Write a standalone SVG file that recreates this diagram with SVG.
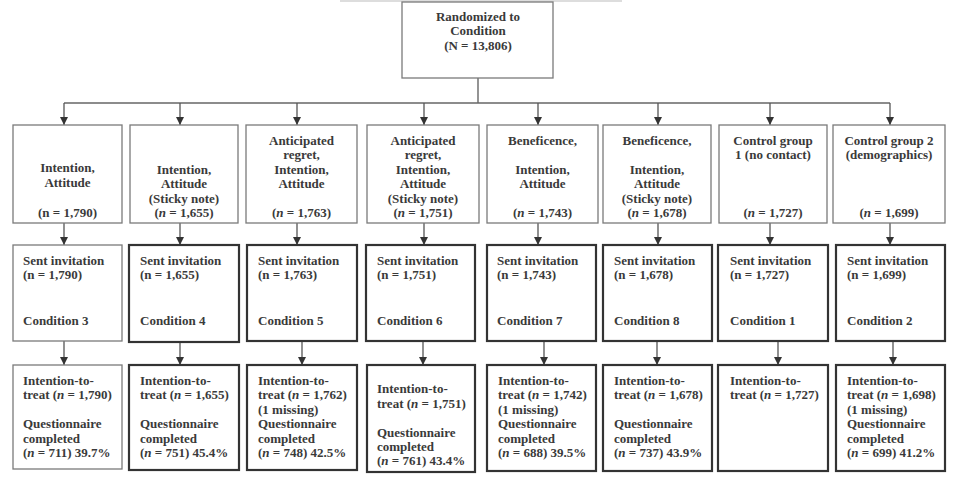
<svg xmlns="http://www.w3.org/2000/svg" width="960" height="483" viewBox="0 0 960 483">
<defs>
<marker id="ah" viewBox="0 0 8 8" refX="8" refY="4" markerWidth="8" markerHeight="8" markerUnits="userSpaceOnUse" orient="auto">
<path d="M0,0 L8,4 L0,8 z" fill="#333"/>
</marker>
</defs>
<style>
text{font-family:"Liberation Serif","Times New Roman",serif;font-weight:bold;font-size:13px;fill:#3a3a3a}
.c{text-anchor:middle}
.thin{fill:#fff;stroke:#7a7a7a;stroke-width:1.3}
.thick{fill:#fff;stroke:#333;stroke-width:2.2}
.ln{stroke:#666;stroke-width:1.4;fill:none}
.ar{stroke:#555;stroke-width:1.3;fill:none;marker-end:url(#ah)}
</style>
<rect width="960" height="483" fill="#fff"/>
<line x1="340" y1="1" x2="622" y2="1" stroke="#bbb" stroke-width="1"/>

<g id="connectors">
<line class="ln" x1="478" y1="78" x2="478" y2="103"/>
<line class="ln" x1="64" y1="103" x2="890" y2="103"/>
<line class="ar" x1="64" y1="103" x2="64" y2="125"/>
<line class="ar" x1="180" y1="103" x2="180" y2="125"/>
<line class="ar" x1="297" y1="103" x2="297" y2="125"/>
<line class="ar" x1="424" y1="103" x2="424" y2="125"/>
<line class="ar" x1="538" y1="103" x2="538" y2="125"/>
<line class="ar" x1="658" y1="103" x2="658" y2="125"/>
<line class="ar" x1="770" y1="103" x2="770" y2="125"/>
<line class="ar" x1="890" y1="103" x2="890" y2="125"/>
<line class="ar" x1="64" y1="223" x2="64" y2="245"/>
<line class="ar" x1="180" y1="223" x2="180" y2="245"/>
<line class="ar" x1="297" y1="223" x2="297" y2="245"/>
<line class="ar" x1="424" y1="223" x2="424" y2="245"/>
<line class="ar" x1="538" y1="223" x2="538" y2="245"/>
<line class="ar" x1="658" y1="223" x2="658" y2="245"/>
<line class="ar" x1="770" y1="223" x2="770" y2="245"/>
<line class="ar" x1="890" y1="223" x2="890" y2="245"/>
<line class="ar" x1="64" y1="341" x2="64" y2="365"/>
<line class="ar" x1="180" y1="341" x2="180" y2="365"/>
<line class="ar" x1="302" y1="341" x2="302" y2="365"/>
<line class="ar" x1="423" y1="341" x2="423" y2="365"/>
<line class="ar" x1="544" y1="341" x2="544" y2="365"/>
<line class="ar" x1="657" y1="341" x2="657" y2="365"/>
<line class="ar" x1="778" y1="341" x2="778" y2="365"/>
<line class="ar" x1="893" y1="341" x2="893" y2="365"/>
</g>

<g id="top">
<rect class="thin" x="402" y="2" width="151" height="76"/>
<text class="c" x="478" y="20.5">Randomized to</text>
<text class="c" x="478" y="35">Condition</text>
<text class="c" x="478" y="49.5">(N = 13,806)</text>
</g>

<g id="g1">
<rect class="thin" x="13" y="125" width="109" height="98"/>
<text class="c" x="67.5" y="172">Intention,</text>
<text class="c" x="67.5" y="186.5">Attitude</text>
<text class="c" x="67.5" y="217">(n = 1,790)</text>
</g>
<g id="g2">
<rect class="thin" x="130" y="125" width="108" height="98"/>
<text class="c" x="184" y="173.5">Intention,</text>
<text class="c" x="184" y="188">Attitude</text>
<text class="c" x="184" y="202.5">(Sticky note)</text>
<text class="c" x="184" y="217">(<tspan font-style="italic">n</tspan> = 1,655)</text>
</g>
<g id="g3">
<rect class="thin" x="246" y="125" width="111" height="98"/>
<text class="c" x="301.5" y="144.5">Anticipated</text>
<text class="c" x="301.5" y="159">regret,</text>
<text class="c" x="301.5" y="173.5">Intention,</text>
<text class="c" x="301.5" y="188">Attitude</text>
<text class="c" x="301.5" y="217">(<tspan font-style="italic">n</tspan> = 1,763)</text>
</g>
<g id="g4">
<rect class="thin" x="367" y="125" width="112" height="98"/>
<text class="c" x="423" y="144.5">Anticipated</text>
<text class="c" x="423" y="159">regret,</text>
<text class="c" x="423" y="173.5">Intention,</text>
<text class="c" x="423" y="188">Attitude</text>
<text class="c" x="423" y="202.5">(Sticky note)</text>
<text class="c" x="423" y="217">(<tspan font-style="italic">n</tspan> = 1,751)</text>
</g>
<g id="g5">
<rect class="thin" x="487" y="125" width="111" height="98"/>
<text class="c" x="542.5" y="144.5">Beneficence,</text>
<text class="c" x="542.5" y="173.5">Intention,</text>
<text class="c" x="542.5" y="188">Attitude</text>
<text class="c" x="542.5" y="217">(<tspan font-style="italic">n</tspan> = 1,743)</text>
</g>
<g id="g6">
<rect class="thin" x="603" y="125" width="108" height="98"/>
<text class="c" x="657" y="144.5">Beneficence,</text>
<text class="c" x="657" y="173.5">Intention,</text>
<text class="c" x="657" y="188">Attitude</text>
<text class="c" x="657" y="202.5">(Sticky note)</text>
<text class="c" x="657" y="217">(<tspan font-style="italic">n</tspan> = 1,678)</text>
</g>
<g id="g7">
<rect class="thin" x="719" y="125" width="108" height="98"/>
<text class="c" x="773" y="144.5">Control group</text>
<text class="c" x="773" y="159">1 (no contact)</text>
<text class="c" x="773" y="217">(<tspan font-style="italic">n</tspan> = 1,727)</text>
</g>
<g id="g8">
<rect class="thin" x="833" y="125" width="112" height="98"/>
<text class="c" x="889" y="144.5">Control group 2</text>
<text class="c" x="889" y="159">(demographics)</text>
<text class="c" x="889" y="217">(<tspan font-style="italic">n</tspan> = 1,699)</text>
</g>

<g id="s1">
<rect class="thin" x="13" y="245" width="109" height="96"/>
<text x="23" y="264.5">Sent invitation</text>
<text x="23" y="279">(n = 1,790)</text>
<text x="23" y="324.5">Condition 3</text>
</g>
<g id="s2">
<rect class="thick" x="129" y="245" width="110" height="97"/>
<text x="140" y="264.5">Sent invitation</text>
<text x="140" y="279">(n = 1,655)</text>
<text x="140" y="324.5">Condition 4</text>
</g>
<g id="s3">
<rect class="thick" x="247" y="245" width="110" height="96"/>
<text x="258" y="264.5">Sent invitation</text>
<text x="258" y="279">(n = 1,763)</text>
<text x="258" y="324.5">Condition 5</text>
</g>
<g id="s4">
<rect class="thick" x="366" y="245" width="109" height="96"/>
<text x="377" y="264.5">Sent invitation</text>
<text x="377" y="279">(n = 1,751)</text>
<text x="377" y="324.5">Condition 6</text>
</g>
<g id="s5">
<rect class="thick" x="487" y="245" width="109" height="96"/>
<text x="497" y="264.5">Sent invitation</text>
<text x="497" y="279">(n = 1,743)</text>
<text x="497" y="324.5">Condition 7</text>
</g>
<g id="s6">
<rect class="thick" x="603" y="245" width="109" height="96"/>
<text x="614" y="264.5">Sent invitation</text>
<text x="614" y="279">(n = 1,678)</text>
<text x="614" y="324.5">Condition 8</text>
</g>
<g id="s7">
<rect class="thick" x="718" y="245" width="110" height="96"/>
<text x="730" y="264.5">Sent invitation</text>
<text x="730" y="279">(n = 1,727)</text>
<text x="730" y="324.5">Condition 1</text>
</g>
<g id="s8">
<rect class="thick" x="836" y="245" width="109" height="96"/>
<text x="847" y="264.5">Sent invitation</text>
<text x="847" y="279">(n = 1,699)</text>
<text x="847" y="324.5">Condition 2</text>
</g>

<g id="r1">
<rect class="thin" x="13" y="365" width="109" height="104"/>
<text x="23" y="384.5">Intention-to-</text>
<text x="23" y="399">treat (<tspan font-style="italic">n</tspan> = 1,790)</text>
<text x="23" y="428">Questionnaire</text>
<text x="23" y="442.5">completed</text>
<text x="23" y="457">(<tspan font-style="italic">n</tspan> = 711) 39.7%</text>
</g>
<g id="r2">
<rect class="thick" x="129" y="365" width="110" height="105"/>
<text x="140" y="384.5">Intention-to-</text>
<text x="140" y="399">treat (<tspan font-style="italic">n</tspan> = 1,655)</text>
<text x="140" y="428">Questionnaire</text>
<text x="140" y="442.5">completed</text>
<text x="140" y="457">(<tspan font-style="italic">n</tspan> = 751) 45.4%</text>
</g>
<g id="r3">
<rect class="thick" x="247" y="365" width="110" height="105"/>
<text x="258" y="384.5">Intention-to-</text>
<text x="258" y="399">treat (<tspan font-style="italic">n</tspan> = 1,762)</text>
<text x="258" y="413.5">(1 missing)</text>
<text x="258" y="428">Questionnaire</text>
<text x="258" y="442.5">completed</text>
<text x="258" y="457">(<tspan font-style="italic">n</tspan> = 748) 42.5%</text>
</g>
<g id="r4">
<rect class="thick" x="367" y="365" width="108" height="107"/>
<text x="377" y="393">Intention-to-</text>
<text x="377" y="407.5">treat (<tspan font-style="italic">n</tspan> = 1,751)</text>
<text x="377" y="437">Questionnaire</text>
<text x="377" y="451">completed</text>
<text x="377" y="465">(<tspan font-style="italic">n</tspan> = 761) 43.4%</text>
</g>
<g id="r5">
<rect class="thick" x="487" y="365" width="109" height="106"/>
<text x="498" y="384.5">Intention-to-</text>
<text x="498" y="399">treat (<tspan font-style="italic">n</tspan> = 1,742)</text>
<text x="498" y="413.5">(1 missing)</text>
<text x="498" y="428">Questionnaire</text>
<text x="498" y="442.5">completed</text>
<text x="498" y="457">(<tspan font-style="italic">n</tspan> = 688) 39.5%</text>
</g>
<g id="r6">
<rect class="thick" x="603" y="365" width="109" height="106"/>
<text x="614" y="384.5">Intention-to-</text>
<text x="614" y="399">treat (<tspan font-style="italic">n</tspan> = 1,678)</text>
<text x="614" y="428">Questionnaire</text>
<text x="614" y="442.5">completed</text>
<text x="614" y="457">(<tspan font-style="italic">n</tspan> = 737) 43.9%</text>
</g>
<g id="r7">
<rect class="thick" x="718" y="365" width="110" height="106"/>
<text x="730" y="384.5">Intention-to-</text>
<text x="730" y="399">treat (<tspan font-style="italic">n</tspan> = 1,727)</text>
</g>
<g id="r8">
<rect class="thick" x="836" y="365" width="109" height="106"/>
<text x="847" y="384.5">Intention-to-</text>
<text x="847" y="399">treat (<tspan font-style="italic">n</tspan> = 1,698)</text>
<text x="847" y="413.5">(1 missing)</text>
<text x="847" y="428">Questionnaire</text>
<text x="847" y="442.5">completed</text>
<text x="847" y="457">(<tspan font-style="italic">n</tspan> = 699) 41.2%</text>
</g>
</svg>
